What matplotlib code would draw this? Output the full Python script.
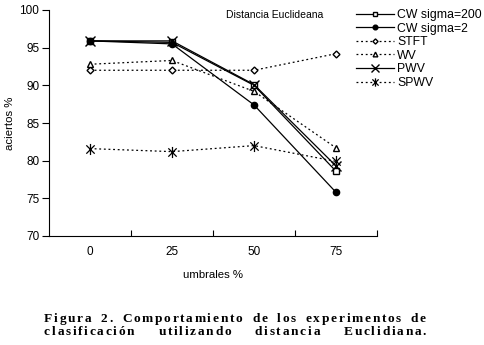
import matplotlib
matplotlib.use("Agg")
import matplotlib.pyplot as plt
from matplotlib.path import Path

categories = ["0", "25", "50", "75"]
cw200 = [95.9, 95.7, 90.0, 78.6]
cw2 = [95.9, 95.5, 87.4, 75.8]
stft = [92.0, 92.0, 92.0, 94.2]
wv = [92.8, 93.3, 89.2, 81.7]
pwv = [95.9, 95.9, 90.1, 79.3]
spwv = [81.6, 81.2, 82.0, 79.9]
series_names = ["CW sigma=200", "CW sigma=2", "STFT", "WV", "PWV", "SPWV"]
yticks = [70, 75, 80, 85, 90, 95, 100]
caption1 = "Figura 2. Comportamiento de los experimentos de"
caption2 = "clasificación utilizando distancia Euclidiana."

plt.rcParams['font.family'] = ['Liberation Sans', 'DejaVu Sans']
fig = plt.figure(figsize=(4.85, 3.45), dpi=100)
W, H = 485, 345
ax = fig.add_axes([49 / W, 1 - 236 / H, (377 - 49) / W, (236 - 10) / H])

star = Path([(0, -1), (0, 1), (-0.75, -0.75), (0.75, 0.75), (-0.75, 0.75), (0.75, -0.75)],
            [Path.MOVETO, Path.LINETO, Path.MOVETO, Path.LINETO, Path.MOVETO, Path.LINETO])

x = list(range(len(categories)))
dot = (0, (1.5, 2.2))
styles = [
    dict(ls='-', marker='s', mfc='white', mec='black', ms=4, lw=0.9),
    dict(ls='-', marker='o', mfc='black', mec='black', ms=4.5, lw=0.9),
    dict(ls=dot, marker='D', mfc='white', mec='black', ms=3.5, lw=0.9),
    dict(ls=dot, marker='^', mfc='white', mec='black', ms=4.5, lw=0.9),
    dict(ls='-', marker='x', mfc='none', mec='black', ms=7, lw=0.9, mew=1.0),
    dict(ls=dot, marker=star, mfc='none', mec='black', ms=8, lw=0.9, mew=0.9),
]
data = [cw200, cw2, stft, wv, pwv, spwv]
handles = []
for name, vals, st in zip(series_names, data, styles):
    h, = ax.plot(x, vals, color='black', label=name, **st)
    handles.append(h)

ax.set_xlim(-0.5, len(categories) - 0.5)
ax.set_ylim(70, 100)
ax.set_yticks(yticks)
ax.set_yticklabels([str(v) for v in yticks], fontsize=8.5)
ax.set_xticks([i + 0.5 for i in range(len(categories) - 1)] + [len(categories) - 0.5])
ax.set_xticklabels([])
ax.set_xticks(x, minor=True)
ax.set_xticklabels(categories, minor=True, fontsize=8.5)
ax.tick_params(axis='x', which='major', direction='in', length=4, width=0.8)
ax.tick_params(axis='x', which='minor', length=0, pad=7)
ax.tick_params(axis='y', direction='out', length=5, width=0.8, pad=2)
for s in ['top', 'right']:
    ax.spines[s].set_visible(False)
for s in ['left', 'bottom']:
    ax.spines[s].set_linewidth(0.8)

ax.set_ylabel('aciertos %', fontsize=8.2, labelpad=3)
ax.set_xlabel('umbrales %', fontsize=8.2, labelpad=9)
fig.text(226 / W, 1 - 15 / H, 'Distancia Euclideana', fontsize=7.5, va='center', ha='left')

fig.legend(handles=handles, loc='upper left', bbox_to_anchor=(356 / W, 1 - 9 / H),
           frameon=False, fontsize=8.8, handlelength=3.1, handletextpad=0.25,
           labelspacing=0.13, borderpad=0, borderaxespad=0, markerscale=0.75)

cap_font = dict(family='Liberation Serif', fontweight='bold', fontsize=9.6)
TRACK = 1.7
r = fig.canvas.get_renderer()

def word_chars(word, y):
    objs = []
    for ch in word:
        t = fig.text(0, y, ch, **cap_font, va='baseline')
        w = t.get_window_extent(r).width
        objs.append((t, w))
    total = sum(w for _, w in objs) + TRACK * (len(objs) - 1)
    return objs, total

def justify(text, y, x0, x1):
    words = text.split()
    built = [word_chars(w, y) for w in words]
    widths = [b[1] for b in built]
    gap = (x1 - x0 - sum(widths)) / (len(words) - 1)
    pos = x0
    for objs, tw in built:
        p = pos
        for t, w in objs:
            t.set_x(p / W)
            p += w + TRACK
        pos += tw + gap

justify(caption1, 1 - 322 / H, 44, 426)
justify(caption2, 1 - 335 / H, 44, 426)

fig.savefig('out.png', dpi=100)
